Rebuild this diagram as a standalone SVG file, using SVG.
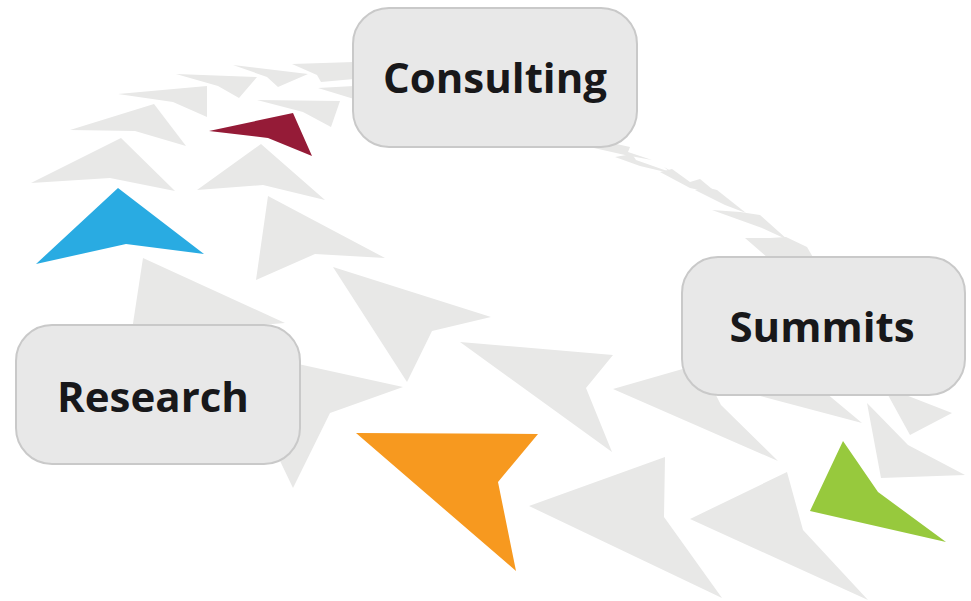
<svg xmlns="http://www.w3.org/2000/svg" width="971" height="601" viewBox="0 0 971 601">
<style>
.g{fill:#e8e8e7}
.box{fill:#e8e8e8;stroke:#c9c9c9;stroke-width:2}
.lbl{font-family:"Open Sans","Noto Sans","Liberation Sans",sans-serif;font-weight:700;font-size:42px;fill:#18181a;text-anchor:middle}
</style>
<rect width="971" height="601" fill="#ffffff"/>
<g id="connectors">
  <!-- upper-left flock toward Consulting -->
  <polygon class="g" points="118,94 207,86 207,117 173,102"/>
  <polygon class="g" points="176,74 257,77 239,98 218,86"/>
  <polygon class="g" points="233,65 308,74 278,87 267,77"/>
  <polygon class="g" points="292,64 354,62 354,79 321,82 317,75"/>
  <polygon class="g" points="318,88 354,86 354,99"/>
  <polygon class="g" points="257,100 340,101 331,127 303,112"/>
  <polygon class="g" points="70,130 154,104 186,146 135,131"/>
  <polygon class="g" points="31,183 121,138 175,191 110,178"/>
  <polygon class="g" points="197,190 261,144 325,200 263,185"/>
  <polygon class="g" points="268,196 385,258 315,254 256,280"/>
  <polygon class="g" points="143,258 285,323 200,330 132,330"/>
  <!-- lower flock from Research to Summits -->
  <polygon class="g" points="280,360 403,387 330,413 293,488 270,440"/>
  <polygon class="g" points="333,267 491,317 432,331 407,382"/>
  <polygon class="g" points="460,342 613,355 586,388 612,452"/>
  <polygon class="g" points="613,389 700,364 721,405 778,461"/>
  <polygon class="g" points="529,506 665,457 664,517 722,598"/>
  <polygon class="g" points="690,519 787,472 803,530 868,600"/>
  <polygon class="g" points="730,388 820,388 862,423"/>
  <polygon class="g" points="880,385 952,413 910,435 888,395"/>
  <polygon class="g" points="867,403 908,445 965,475 881,478"/>
  <!-- streak from Consulting to Summits -->
  <polygon class="g" points="585,146 612,143 630,147 628,152 652,160 625,155"/>
  <polygon class="g" points="615,157 632,154 636,160 670,172 664,167 678,175 640,166"/>
  <polygon class="g" points="660,172 672,169 690,182 700,179 718,194 690,188"/>
  <polygon class="g" points="695,190 705,187 717,190 746,213 725,205"/>
  <polygon class="g" points="712,210 740,212 760,215 788,240 762,228"/>
  <polygon class="g" points="745,238 770,238 786,237 807,247 814,259 768,258"/>
  <!-- coloured darts -->
  <polygon fill="#29abe2" points="118,188 204,254 126,244 36,264"/>
  <polygon fill="#951b37" points="209,131 293,113 312,156 268,138"/>
  <polygon fill="#f7991f" points="356,433 538,434 498,482 516,571"/>
  <polygon fill="#97c93d" points="843,441 878,492 946,542 810,511"/>
</g>
<g id="consulting">
  <rect class="box" x="353" y="8" width="284" height="139" rx="36"/>
  <text class="lbl" x="495" y="93">Consulting</text>
</g>
<g id="research">
  <rect class="box" x="16" y="325" width="284" height="139" rx="36"/>
  <text class="lbl" x="153" y="412">Research</text>
</g>
<g id="summits">
  <rect class="box" x="682" y="257" width="283" height="138" rx="36"/>
  <text class="lbl" x="822" y="342">Summits</text>
</g>
</svg>
